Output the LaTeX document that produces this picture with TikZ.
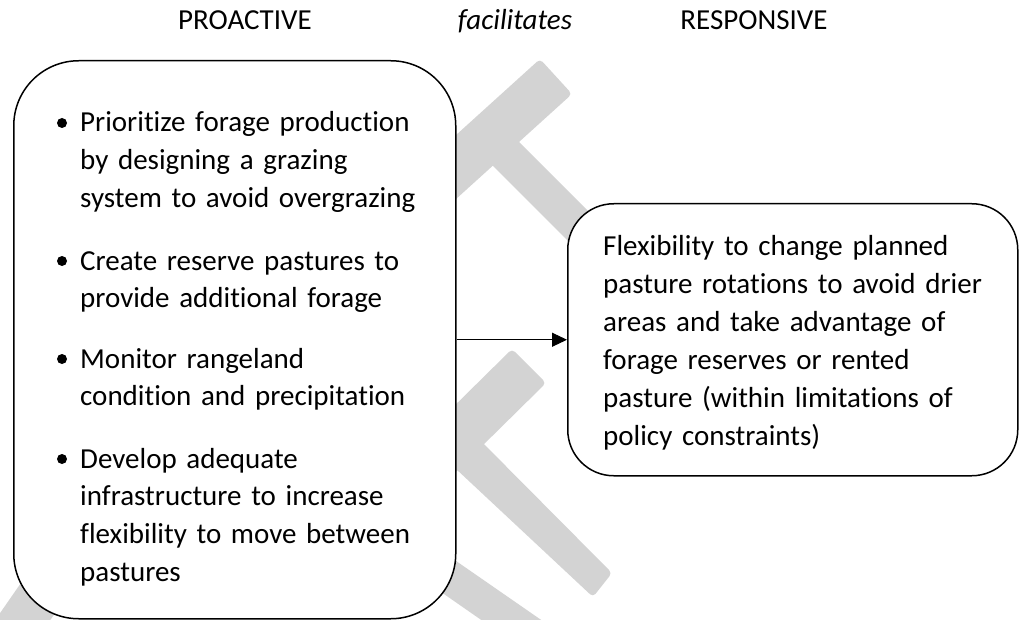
\documentclass[tikz,border=0pt]{standalone}
\usepackage{fontspec}
\setmainfont{Carlito}[Ligatures={NoCommon}]
\usetikzlibrary{arrows.meta}
\definecolor{wm}{RGB}{211,211,211}
\begin{document}
\begin{tikzpicture}[x=1pt,y=-1pt,
  band/.style={fill=wm, draw=none, rounded corners=4pt},
  box/.style={draw=black, line width=1.5pt, fill=white, inner sep=0pt, anchor=north west},
  body/.style={font=\fontsize{29}{37.8}\selectfont, text width=430pt, align=left, inner sep=0pt, anchor=base west},
  head/.style={font=\fontsize{29}{35}\selectfont, inner sep=0pt, anchor=base},
  dot/.style={circle, fill=black, draw=none, inner sep=0pt, minimum size=10pt},
  conn/.style={line width=1pt, -{Triangle[length=15pt,width=14pt]}}]
\useasboundingbox (0,0) rectangle (1019,620);
\clip (0,0) rectangle (1019,620);
% watermark shapes
\fill[band] (540,59) -- (572,94) -- (424,228) -- (392,193) -- cycle;
\fill[band] (500,123) -- (640,263) -- (615,288) -- (475,148) -- cycle;
\fill[band] (512,349) -- (546,383) -- (404,523) -- (370,489) -- cycle;
\fill[band] (470,430) -- (612,573) -- (593,597) -- (440,454) -- cycle;
\fill[band] (420,536) -- (560,633) -- (500,633) -- (408,569) -- cycle;
\fill[band] (48,544) -- (85,570) -- (17,668) -- (-20,642) -- cycle;
% boxes
\node[box, rounded corners=65pt, minimum width=442pt, minimum height=558pt] (L) at (13,60) {};
\node[box, rounded corners=46pt, minimum width=450pt, minimum height=272pt] (R) at (567,203) {};
% headers
\node[head] (hp) at (245,30) {PROACTIVE};
\node[head] (hf) at (515,30) {\itshape facilitates};
\node[head] (hr) at (754,30) {RESPONSIVE};
% bullets and items
\node[dot] (b1) at (62,123) {};
\node[dot] (b2) at (62,261) {};
\node[dot] (b3) at (62,359) {};
\node[dot] (b4) at (62,459) {};
\node[body] (i1) at (80,132) {Prioritize forage production\\by designing a grazing\\system to avoid overgrazing};
\node[body] (i2) at (80,270) {Create reserve pastures to\\provide additional forage};
\node[body] (i3) at (80,368) {Monitor rangeland\\condition and precipitation};
\node[body] (i4) at (80,468) {Develop adequate\\infrastructure to increase\\flexibility to move between\\pastures};
\node[body, font=\fontsize{29}{38}\selectfont] (rt) at (603,255) {Flexibility to change planned\\pasture rotations to avoid drier\\areas and take advantage of\\forage reserves or rented\\pasture (within limitations of\\policy constraints)};
% connector
\draw[conn] (L.east) -- (R.west);
\end{tikzpicture}
\end{document}
